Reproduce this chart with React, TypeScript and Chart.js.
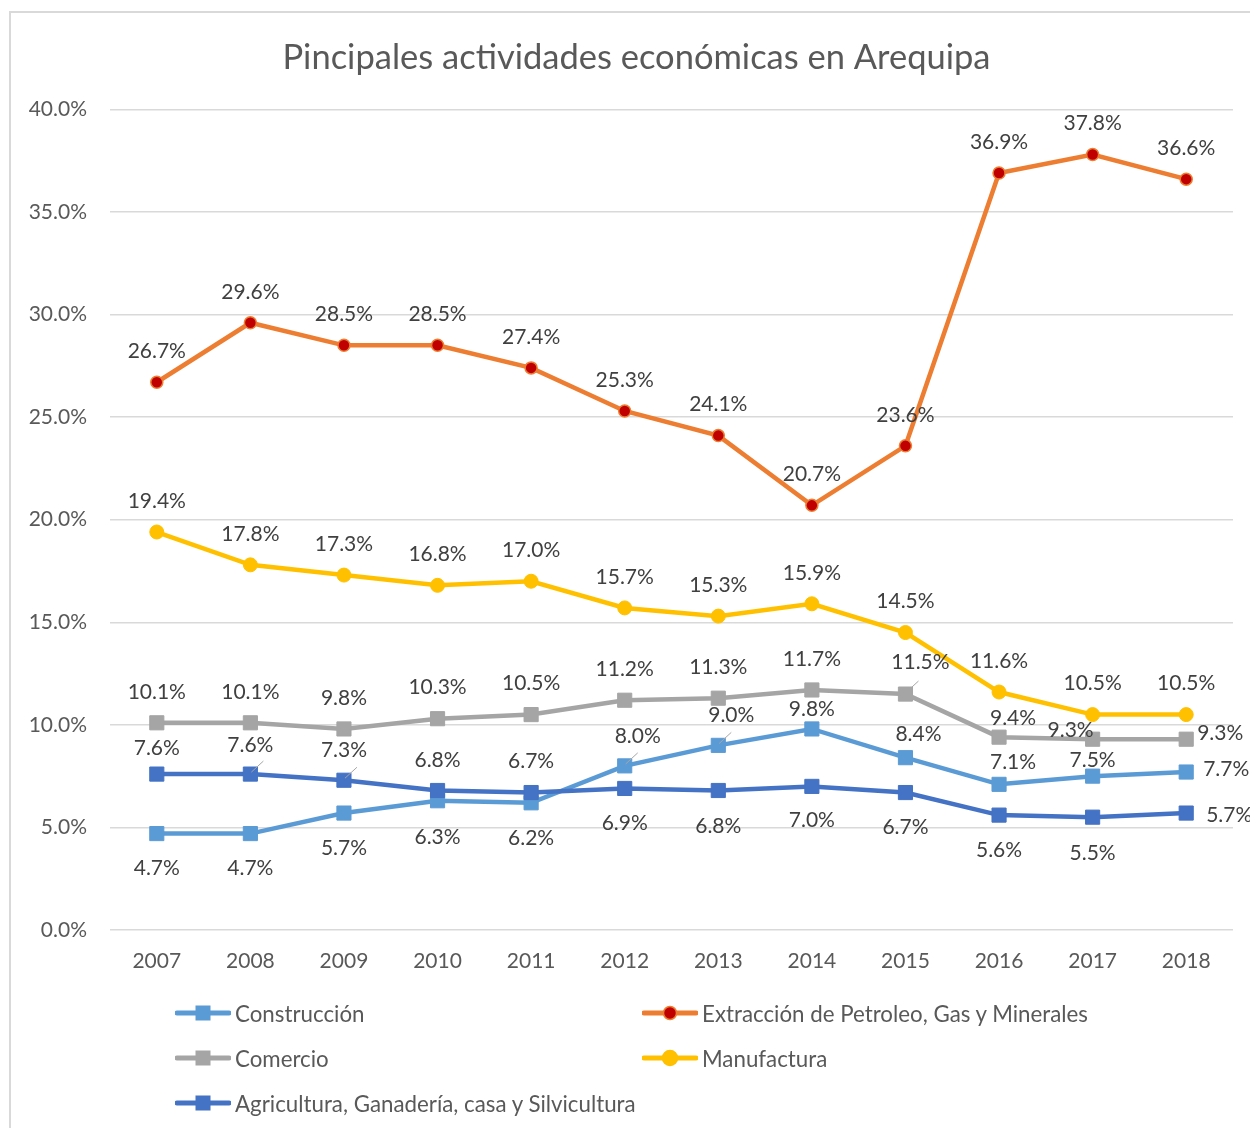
import React, { useEffect, useRef } from 'react';
import { Chart, registerables } from 'chart.js';

Chart.register(...registerables);

const FONT = "Lato, 'Open Sans', sans-serif";

// ---- Data ----
const years = ['2007', '2008', '2009', '2010', '2011', '2012', '2013', '2014', '2015', '2016', '2017', '2018'];
const construccion = [4.7, 4.7, 5.7, 6.3, 6.2, 8.0, 9.0, 9.8, 8.4, 7.1, 7.5, 7.7];
const extraccion = [26.7, 29.6, 28.5, 28.5, 27.4, 25.3, 24.1, 20.7, 23.6, 36.9, 37.8, 36.6];
const comercio = [10.1, 10.1, 9.8, 10.3, 10.5, 11.2, 11.3, 11.7, 11.5, 9.4, 9.3, 9.3];
const manufactura = [19.4, 17.8, 17.3, 16.8, 17.0, 15.7, 15.3, 15.9, 14.5, 11.6, 10.5, 10.5];
const agricultura = [7.6, 7.6, 7.3, 6.8, 6.7, 6.9, 6.8, 7.0, 6.7, 5.6, 5.5, 5.7];
const seriesNames = [
  'Construcción',
  'Extracción de Petroleo, Gas y Minerales',
  'Comercio',
  'Manufactura',
  'Agricultura, Ganadería, casa y Silvicultura',
];
const yMin = 0;
const yMax = 40;
const yStep = 5;
const title = 'Pincipales actividades económicas en Arequipa';

// ---- Label placement (style, relative to each point) ----
const offConstruccion = [[0, 35], [0, 35], [0, 35], [0, 36], [0, 35], [13, -30], [13, -30], [0, -20], [13, -23], [14, -22], [0, -16], [40, -3]];
const offExtraccion = [[0, -31], [0, -31], [0, -31], [0, -31], [0, -31], [0, -31], [0, -31], [0, -31], [0, -31], [0, -31], [0, -31], [0, -31]];
const offComercio = [[0, -31], [0, -31], [0, -31], [0, -31], [0, -31], [0, -31], [0, -31], [0, -31], [15, -32], [14, -19], [-22, -9], [34, -6]];
const offManufactura = [[0, -31], [0, -31], [0, -31], [0, -31], [0, -31], [0, -31], [0, -31], [0, -31], [0, -31], [0, -31], [0, -31], [0, -31]];
const offAgricultura = [[0, -26], [0, -29], [0, -30], [0, -30], [0, -31], [0, 35], [0, 36], [0, 34], [0, 35], [0, 35], [0, 36], [43, 2]];
// leader lines [datasetIndex, pointIndex]
const leaders = [[4, 1], [4, 2], [0, 5], [0, 6], [2, 8]];

const fmt = (v: number) => v.toFixed(1) + '%';

const C_CONS = '#5B9BD5';
const C_EXT = '#ED7D31';
const C_EXT_FILL = '#C00000';
const C_COM = '#A5A5A5';
const C_MAN = '#FFC000';
const C_AGR = '#4472C4';

const labelPlugin = {
  id: 'pointLabels',
  afterLayout(chart: any) {
    // shift the title box so the title is centred like the reference
    if (chart.titleBlock) {
      chart.titleBlock.left = 40;
      chart.titleBlock.right = 1233;
    }
  },
  afterDatasetsDraw(chart: any) {
    const ctx = chart.ctx;
    ctx.save();
    ctx.strokeStyle = '#A6A6A6';
    ctx.lineWidth = 1;
    leaders.forEach(([di, i]) => {
      const pt = chart.getDatasetMeta(di).data[i];
      ctx.beginPath();
      ctx.moveTo(pt.x + 1, pt.y - 2);
      ctx.lineTo(pt.x + 13, pt.y - 13);
      ctx.stroke();
    });
    ctx.font = `21px ${FONT}`;
    ctx.fillStyle = '#404040';
    ctx.textAlign = 'center';
    ctx.textBaseline = 'middle';
    chart.data.datasets.forEach((ds: any, di: number) => {
      const meta = chart.getDatasetMeta(di);
      meta.data.forEach((pt: any, i: number) => {
        const [dx, dy] = ds.labelOffsets[i];
        ctx.fillText(fmt(ds.data[i]), pt.x + dx, pt.y + dy);
      });
    });
    ctx.restore();
  },
};

type LegendItem = { name: string; color: string; shape: 'rect' | 'circle'; fill: string };

const legendItems: LegendItem[] = [
  { name: seriesNames[0], color: C_CONS, shape: 'rect', fill: C_CONS },
  { name: seriesNames[1], color: C_EXT, shape: 'circle', fill: C_EXT_FILL },
  { name: seriesNames[2], color: C_COM, shape: 'rect', fill: C_COM },
  { name: seriesNames[3], color: C_MAN, shape: 'circle', fill: C_MAN },
  { name: seriesNames[4], color: C_AGR, shape: 'rect', fill: C_AGR },
];

function LegendIcon({ item }: { item: LegendItem }) {
  return (
    <svg width={56} height={20} style={{ display: 'block' }}>
      <line x1={2} y1={10} x2={54} y2={10} stroke={item.color} strokeWidth={5} strokeLinecap="round" />
      {item.shape === 'rect' ? (
        <rect x={20.5} y={2.5} width={15} height={15} fill={item.fill} />
      ) : (
        <circle cx={28} cy={10} r={item.fill === item.color ? 7.5 : 6.5} fill={item.fill} stroke={item.color} strokeWidth={1.5} />
      )}
    </svg>
  );
}

export default function App() {
  const canvasRef = useRef<HTMLCanvasElement | null>(null);

  useEffect(() => {
    if (!canvasRef.current) return;
    const mk = (label: string, data: number[], color: string, style: string, fill: string, radius: number, offs: number[][], order: number, bw = 1) => ({
      label,
      data,
      borderColor: color,
      backgroundColor: fill,
      borderWidth: 4.5,
      pointStyle: style,
      pointRadius: radius,
      pointBackgroundColor: fill,
      pointBorderColor: color,
      pointBorderWidth: bw,
      pointHoverRadius: radius,
      tension: 0,
      order,
      labelOffsets: offs,
      clip: false,
    });
    const chart = new Chart(canvasRef.current, {
      type: 'line',
      data: {
        labels: years,
        datasets: [
          mk(seriesNames[0], construccion, C_CONS, 'rect', C_CONS, 10, offConstruccion, 4),
          mk(seriesNames[1], extraccion, C_EXT, 'circle', C_EXT_FILL, 6, offExtraccion, 3, 1.5),
          mk(seriesNames[2], comercio, C_COM, 'rect', C_COM, 10, offComercio, 2),
          mk(seriesNames[3], manufactura, C_MAN, 'circle', C_MAN, 7, offManufactura, 1),
          mk(seriesNames[4], agricultura, C_AGR, 'rect', C_AGR, 10, offAgricultura, 0),
        ] as any,
      },
      options: {
        responsive: false,
        animation: false,
        devicePixelRatio: 1,
        layout: { padding: { left: 12, right: 17, top: 20, bottom: 138 } },
        plugins: {
          legend: { display: false },
          tooltip: { enabled: false },
          title: {
            display: true,
            text: title,
            color: '#595959',
            font: { family: FONT, size: 34.5, weight: 'normal' as any },
            padding: { top: 17, bottom: 31 },
          },
        },
        scales: {
          x: {
            type: 'category',
            offset: true,
            grid: { display: false, drawTicks: false },
            border: { display: false },
            ticks: { color: '#595959', font: { family: FONT, size: 21 }, padding: 19, maxRotation: 0 },
            afterFit: (s: any) => { s.height = 60; },
          },
          y: {
            min: yMin,
            max: yMax,
            grid: { color: '#D9D9D9', lineWidth: 1.5, drawTicks: false },
            border: { display: false },
            ticks: {
              stepSize: yStep,
              color: '#595959',
              font: { family: FONT, size: 21 },
              padding: 23,
              callback: (v: any) => Number(v).toFixed(1) + '%',
            },
            afterFit: (s: any) => { s.width = 98; },
          },
        },
      },
      plugins: [labelPlugin],
    });
    return () => chart.destroy();
  }, []);

  const rowY = [1013, 1058, 1103];
  const colX = [175, 642];

  return (
    <div style={{ position: 'absolute', left: 0, top: 0, width: 1250, height: 1128, overflow: 'hidden', background: '#fff' }}>
      <div style={{ position: 'absolute', left: 9, top: 11, width: 1400, height: 1400, border: '2px solid #D9D9D9' }} />
      <canvas ref={canvasRef} width={1250} height={1128} style={{ position: 'absolute', left: 0, top: 0, display: 'block' }} />
      {legendItems.map((item, i) => (
        <div
          key={item.name}
          style={{
            position: 'absolute',
            left: colX[i % 2],
            top: rowY[Math.floor(i / 2)] - 15,
            height: 30,
            display: 'flex',
            alignItems: 'center',
            fontFamily: FONT,
            fontSize: 22.3,
            color: '#595959',
            whiteSpace: 'nowrap',
          }}
        >
          <LegendIcon item={item} />
          <span style={{ marginLeft: 4 }}>{item.name}</span>
        </div>
      ))}
    </div>
  );
}
